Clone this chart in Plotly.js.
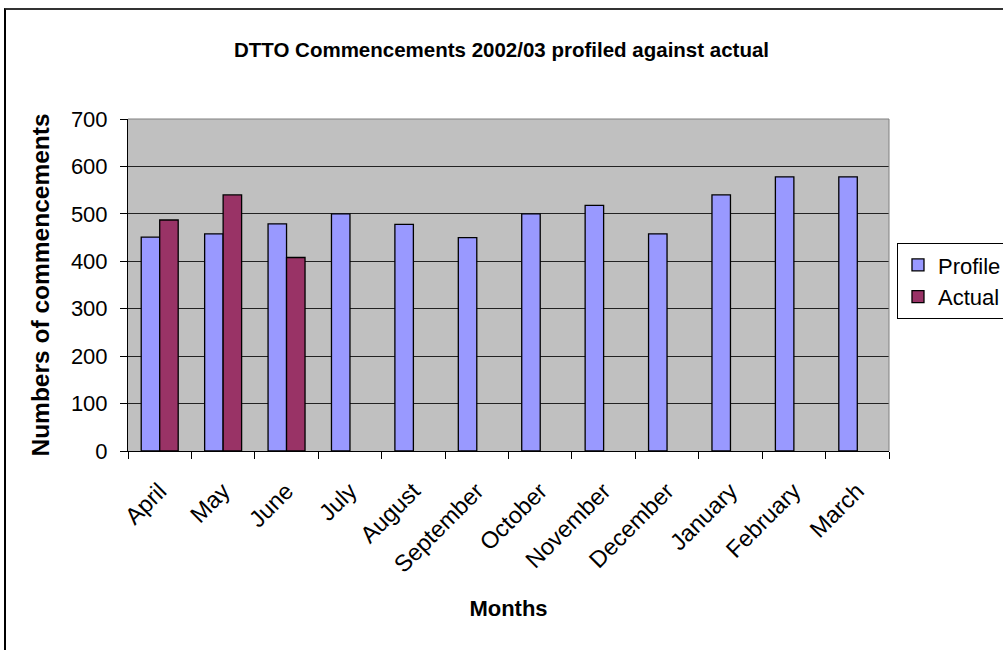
<!DOCTYPE html>
<html>
<head>
<meta charset="utf-8">
<script src="https://cdn.plot.ly/plotly-3.0.1.min.js"></script>
<style>
  html, body { margin: 0; padding: 0; background: #fff; }
  #chart { position: absolute; left: 0; top: 0; width: 1003px; height: 650px; }
  #frame { position: absolute; left: 4px; top: 8px; width: 1010px; height: 660px;
           border-top: 2px solid #333; border-left: 2px solid #000; pointer-events: none; }
</style>
</head>
<body>
<div id="chart"></div>
<div id="frame"></div>
<script>
const months = ["April", "May", "June", "July", "August", "September", "October",
                "November", "December", "January", "February", "March"];
const profile = [451, 458, 479, 500, 478, 450, 500, 518, 458, 540, 578, 578];
const actual = [487, 540, 408, null, null, null, null, null, null, null, null, null];
const yTicks = [0, 100, 200, 300, 400, 500, 600, 700];

const font = "Liberation Sans, Arial, sans-serif";

const traces = [
  { type: "bar", name: "Profile", x: months, y: profile,
    marker: { color: "#9999FF", line: { color: "#000", width: 1.3 } } },
  { type: "bar", name: "Actual", x: months, y: actual,
    marker: { color: "#993366", line: { color: "#000", width: 1.3 } } }
];

const layout = {
  width: 1003, height: 650,
  margin: { l: 128, r: 114, t: 119, b: 199, pad: 0, autoexpand: false },
  paper_bgcolor: "#fff",
  plot_bgcolor: "#C0C0C0",
  barmode: "group",
  bargap: 0.417,
  bargroupgap: 0,
  font: { family: font, color: "#000" },
  title: { text: "<b>DTTO Commencements 2002/03 profiled against actual</b>",
           font: { family: font, size: 20.5, color: "#000" },
           x: 0.5, xref: "container", y: 0.923, yanchor: "middle" },
  xaxis: {
    type: "category",
    automargin: false,
    tickangle: -45,
    ticks: "outside", ticklen: 7, tickcolor: "#000", tickwidth: 1,
    tickson: "boundaries",
    ticklabelstandoff: 16,
    tickfont: { family: font, size: 23.5, color: "#000" },
    showline: true, linecolor: "#000", linewidth: 1,
    showgrid: false,
    mirror: false,
    title: { text: "<b>Months</b>", font: { family: font, size: 22, color: "#000" }, standoff: 24 }
  },
  yaxis: {
    automargin: false,
    range: [0, 700],
    tickvals: yTicks,
    ticktext: yTicks.map(String),
    ticks: "outside", ticklen: 7, tickcolor: "#000", tickwidth: 1,
    ticklabelstandoff: 8,
    tickfont: { family: font, size: 22, color: "#000" },
    showline: true, linecolor: "#000", linewidth: 1,
    showgrid: true, gridcolor: "#222", gridwidth: 1,
    zeroline: false,
    title: { text: "<b>Numbers of commencements</b>", font: { family: font, size: 24.5, color: "#000" }, standoff: 14 }
  },
  shapes: [
    { type: "line", xref: "paper", yref: "paper", x0: 1, x1: 1, y0: 0, y1: 1,
      line: { color: "#808080", width: 1 } },
    { type: "line", xref: "paper", yref: "paper", x0: 0, x1: 1, y0: 1, y1: 1,
      line: { color: "#808080", width: 1 } }
  ],
  showlegend: true,
  legend: {
    x: 1.0105, xanchor: "left", y: 0.626, yanchor: "top",
    bgcolor: "#fff", bordercolor: "#000", borderwidth: 1,
    font: { family: font, size: 22, color: "#000" },
    tracegroupgap: 0, itemwidth: 30
  }
};

Plotly.newPlot("chart", traces, layout, { displayModeBar: false, staticPlot: true });
</script>
</body>
</html>
